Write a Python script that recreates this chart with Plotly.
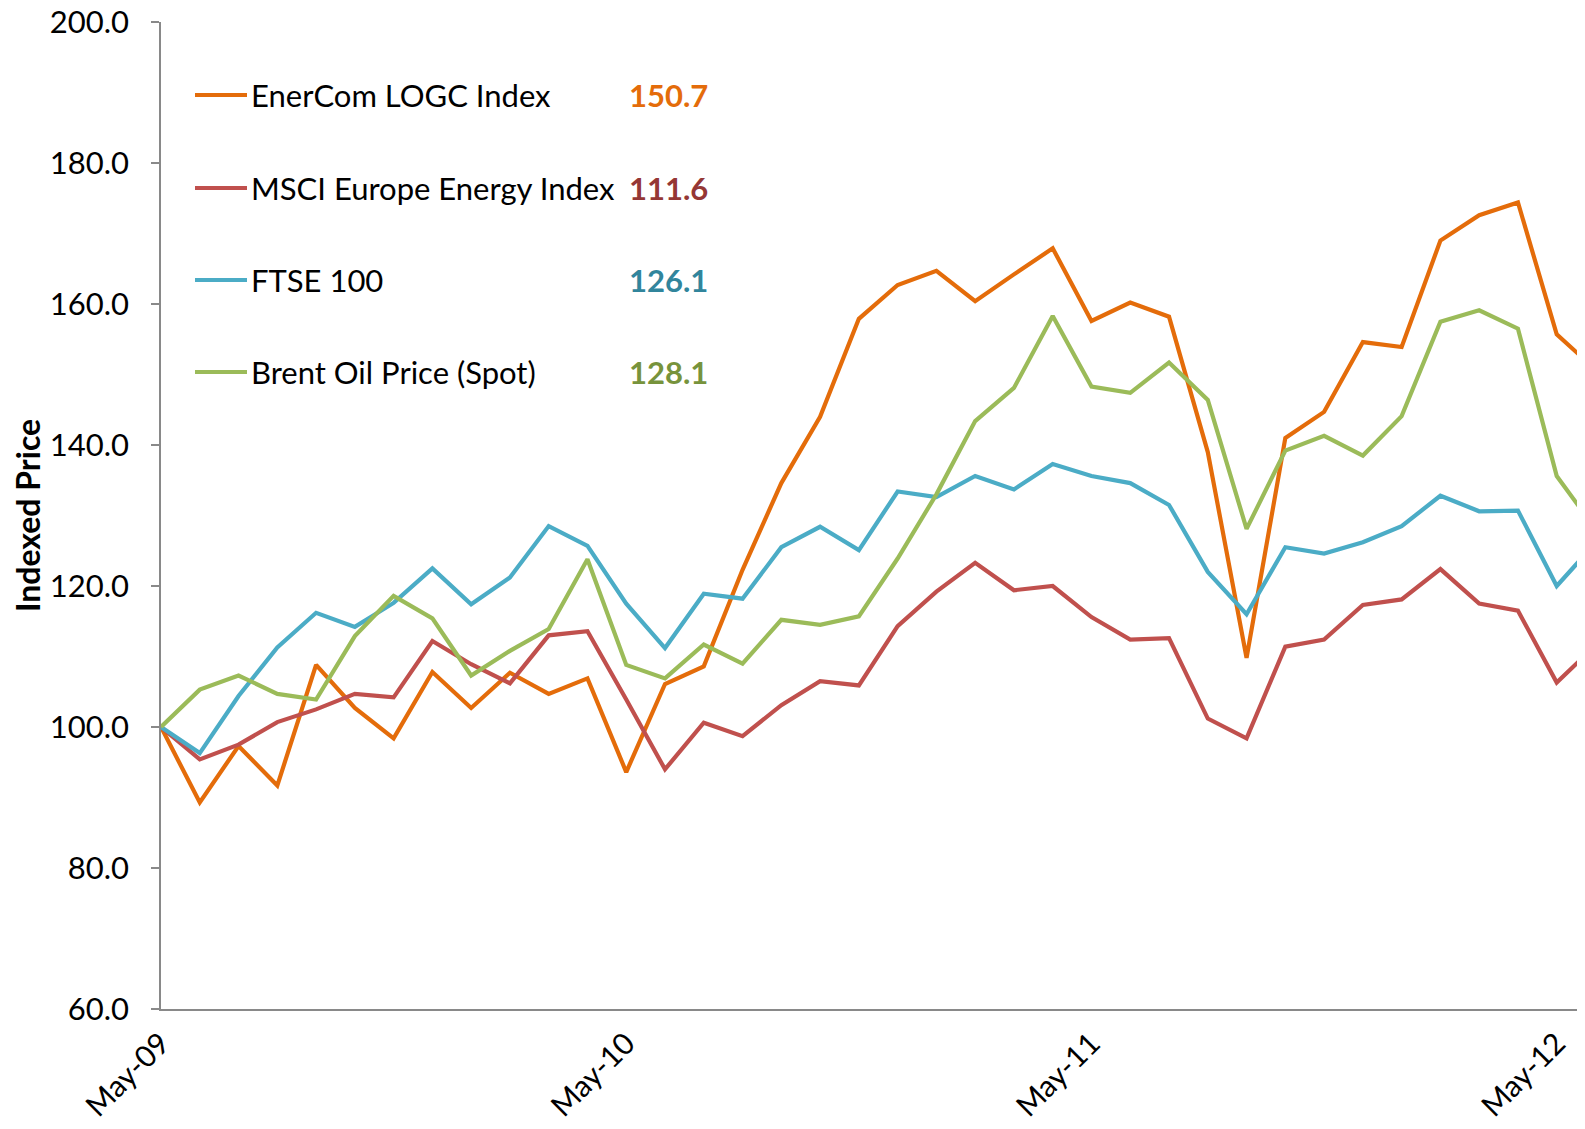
import plotly.graph_objects as go

months = ["May-09","Jun-09","Jul-09","Aug-09","Sep-09","Oct-09","Nov-09","Dec-09",
          "Jan-10","Feb-10","Mar-10","Apr-10","May-10","Jun-10","Jul-10","Aug-10",
          "Sep-10","Oct-10","Nov-10","Dec-10","Jan-11","Feb-11","Mar-11","Apr-11",
          "May-11","Jun-11","Jul-11","Aug-11","Sep-11","Oct-11","Nov-11","Dec-11",
          "Jan-12","Feb-12","Mar-12","Apr-12","May-12","Jun-12"]

enercom = [100, 89.3, 97.3, 91.7, 108.8, 102.7, 98.4, 107.8, 102.7, 107.7, 104.7, 106.9,
           93.6, 106.1, 108.6, 122.3, 134.6, 144.0, 157.9, 162.7, 164.7, 160.4, 164.2, 167.9,
           157.6, 160.2, 158.2, 139.0, 109.8, 141.0, 144.7, 154.6, 153.9, 169.0, 172.6, 174.4,
           155.7, 150.7]
msci = [100, 95.4, 97.5, 100.7, 102.5, 104.7, 104.2, 112.2, 108.9, 106.2, 113.0, 113.6,
        103.9, 94.0, 100.6, 98.7, 103.1, 106.5, 105.9, 114.3, 119.2, 123.3, 119.4, 120.0,
        115.6, 112.4, 112.6, 101.2, 98.4, 111.4, 112.4, 117.3, 118.1, 122.4, 117.5, 116.5,
        106.3, 111.6]
ftse = [100, 96.3, 104.4, 111.3, 116.2, 114.2, 117.6, 122.5, 117.4, 121.2, 128.5, 125.7,
        117.5, 111.2, 118.9, 118.2, 125.5, 128.4, 125.1, 133.4, 132.6, 135.6, 133.7, 137.3,
        135.6, 134.6, 131.5, 122.0, 116.0, 125.5, 124.6, 126.2, 128.5, 132.8, 130.6, 130.7,
        120.0, 126.1]
brent = [100, 105.3, 107.3, 104.7, 103.9, 112.9, 118.6, 115.4, 107.3, 110.8, 113.9, 123.8,
         108.8, 106.9, 111.7, 109.0, 115.2, 114.5, 115.7, 123.9, 133.0, 143.4, 148.1, 158.3,
         148.3, 147.4, 151.7, 146.4, 128.1, 139.2, 141.3, 138.5, 144.1, 157.5, 159.1, 156.5,
         135.6, 128.1]

series_names = ["EnerCom LOGC Index", "MSCI Europe Energy Index", "FTSE 100", "Brent Oil Price (Spot)"]
series_values = [enercom, msci, ftse, brent]
line_colors = ["#E46C0A", "#C0504D", "#4BACC6", "#9BBB59"]
value_colors = ["#E46C0A", "#953735", "#31859C", "#77933C"]

tick_months = ["May-09", "May-10", "May-11", "May-12"]
y_ticks = [60, 80, 100, 120, 140, 160, 180, 200]

# page has an 8px body margin; figure sized so its right/bottom meet the window edge
OFF = 8
W, H = 1585 - OFF, 1129 - OFF
ML, MR, MT, MB = 161 - OFF, 0, 22 - OFF, 120
PW, PH = W - ML - MR, H - MT - MB
FONT = "Lato"

def px_x(p):
    # p: page pixel x
    return (p - OFF - ML) / PW

def px_y(p):
    # p: page pixel y (from top)
    return (H - MB - (p - OFF)) / PH

fig = go.Figure()
for name, vals, col in zip(series_names, series_values, line_colors):
    fig.add_trace(go.Scatter(x=months, y=vals, mode="lines", name=name,
                             line=dict(color=col, width=4.2), showlegend=False))

legend_rows = [95, 188, 280, 372]
for name, vals, col, vcol, ry in zip(series_names, series_values, line_colors, value_colors, legend_rows):
    fig.add_shape(type="line", xref="paper", yref="paper",
                  x0=px_x(195), x1=px_x(247), y0=px_y(ry), y1=px_y(ry),
                  line=dict(color=col, width=4.2))
    fig.add_annotation(xref="paper", yref="paper", x=px_x(249), y=px_y(ry),
                       xanchor="left", yanchor="middle", showarrow=False,
                       text=name, font=dict(family=FONT, size=31, color="#000000"))
    fig.add_annotation(xref="paper", yref="paper", x=px_x(710), y=px_y(ry),
                       xanchor="right", yanchor="middle", showarrow=False,
                       text=f"<b>{vals[-1]:.1f}</b>", font=dict(family=FONT, size=31, color=vcol))

fig.add_annotation(xref="paper", yref="paper", x=px_x(27), y=px_y(516),
                   xanchor="center", yanchor="middle", showarrow=False, textangle=-90,
                   text="<b>Indexed Price</b>", font=dict(family=FONT, size=32, color="#000000"))

fig.update_layout(
    width=W, height=H,
    margin=dict(l=ML, r=MR, t=MT, b=MB, pad=0, autoexpand=False),
    paper_bgcolor="white", plot_bgcolor="white",
    font=dict(family=FONT, size=31, color="#000000"),
    xaxis=dict(type="category", range=[0, PW / 38.77],
               tickmode="array", tickvals=tick_months, ticktext=tick_months,
               tickangle=-45, ticks="", showgrid=False, zeroline=False,
               showline=True, linecolor="#898989", linewidth=1.5,
               tickfont=dict(family=FONT, size=30), ticklabelstandoff=3,
               ticklabeloverflow="allow"),
    yaxis=dict(range=[60, 200], tickvals=y_ticks, tickformat=".1f",
               ticks="outside", ticklen=8, tickcolor="#898989", tickwidth=1.5,
               showgrid=False, zeroline=False, showline=True,
               linecolor="#898989", linewidth=1.5,
               tickfont=dict(family=FONT, size=31), ticklabelstandoff=16,
               ticklabeloverflow="allow"),
)

fig.write_html("out.html")
